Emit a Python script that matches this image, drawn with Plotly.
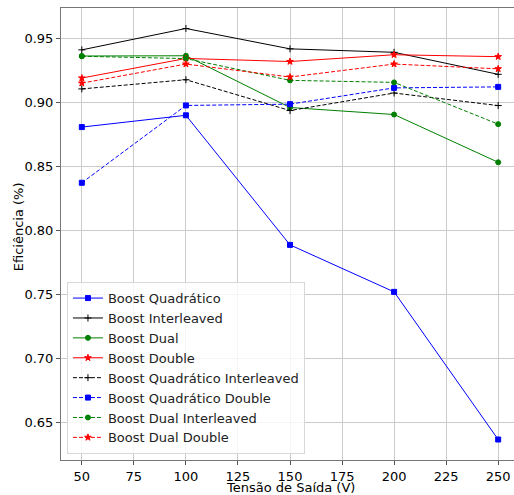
import plotly.graph_objects as go

tensao = [50, 100, 150, 200, 250]

boost_quadratico = [0.8805, 0.8897, 0.7885, 0.7518, 0.6365]
boost_interleaved = [0.9408, 0.9575, 0.9416, 0.9389, 0.9217]
boost_dual = [0.9360, 0.9362, 0.8958, 0.8903, 0.8530]
boost_double = [0.9188, 0.9341, 0.9317, 0.9370, 0.9355]
boost_quad_interleaved = [0.9103, 0.9175, 0.8934, 0.9071, 0.8973]
boost_quad_double = [0.8370, 0.8974, 0.8984, 0.9111, 0.9119]
boost_dual_interleaved = [0.9358, 0.9340, 0.9170, 0.9154, 0.8828]
boost_dual_double = [0.9148, 0.9297, 0.9196, 0.9297, 0.9260]

x_title = "Tensão de Saída (V)"
y_title = "Eficiência (%)"

series = [
    ("Boost Quadrático", boost_quadratico, "blue", "solid", "square", 5),
    ("Boost Interleaved", boost_interleaved, "black", "solid", "cross-thin", 5),
    ("Boost Dual", boost_dual, "green", "solid", "circle", 5),
    ("Boost Double", boost_double, "red", "solid", "star", 5),
    ("Boost Quadrático Interleaved", boost_quad_interleaved, "black", "dash", "cross-thin", 5),
    ("Boost Quadrático Double", boost_quad_double, "blue", "dash", "square", 5),
    ("Boost Dual Interleaved", boost_dual_interleaved, "green", "dash", "circle", 5),
    ("Boost Dual Double", boost_dual_double, "red", "dash", "star", 5),
]

fig = go.Figure()
for name, vals, color, dash, sym, size in series:
    fig.add_trace(go.Scatter(
        x=tensao, y=vals, name=name, mode="lines+markers",
        line=dict(color=color, width=1, dash="4px,2px" if dash == "dash" else "solid"),
        marker=dict(symbol=sym, size=size, color=color,
                    line=dict(color=color, width=1)),
    ))

font = dict(family="DejaVu Sans", size=13, color="black")
fig.update_layout(
    width=519, height=495,
    margin=dict(l=61, r=0, t=8, b=35),
    paper_bgcolor="white", plot_bgcolor="white",
    font=font,
    showlegend=True,
    legend=dict(
        x=0.013, y=0.013, xanchor="left", yanchor="bottom",
        bgcolor="rgba(255,255,255,0.8)", bordercolor="#d8d8d8", borderwidth=1,
        font=dict(family="DejaVu Sans", size=13, color="#222"),
        tracegroupgap=0,
    ),
    annotations=[
        dict(text=x_title, xref="paper", yref="paper", x=0.5, y=-35 / 452,
             xanchor="center", yanchor="bottom", yshift=-2,
             showarrow=False, font=font),
        dict(text=y_title, xref="paper", yref="paper", x=-43 / 458, y=0.515,
             xanchor="center", yanchor="middle", textangle=-90,
             showarrow=False, font=font),
    ],
)
fig.update_xaxes(
    range=[40, 260], tickmode="array",
    tickvals=[50, 75, 100, 125, 150, 175, 200, 225, 250],
    showgrid=True, gridcolor="#cccccc", gridwidth=1,
    showline=True, linecolor="#777777", linewidth=1, mirror=True,
    ticks="outside", ticklen=4, tickcolor="#555555", zeroline=False,
    automargin=False,
)
fig.update_yaxes(
    range=[0.6205, 0.9735], tickmode="array",
    tickvals=[0.65, 0.70, 0.75, 0.80, 0.85, 0.90, 0.95],
    ticktext=["0.65", "0.70", "0.75", "0.80", "0.85", "0.90", "0.95"],
    showgrid=True, gridcolor="#cccccc", gridwidth=1,
    showline=True, linecolor="#777777", linewidth=1, mirror=True,
    ticks="outside", ticklen=4, tickcolor="#555555", zeroline=False,
    automargin=False,
)
fig.write_html(
    "out.html",
    config={"displayModeBar": False},
    post_script="document.body.style.margin='0';document.body.style.overflow='hidden';",
)
